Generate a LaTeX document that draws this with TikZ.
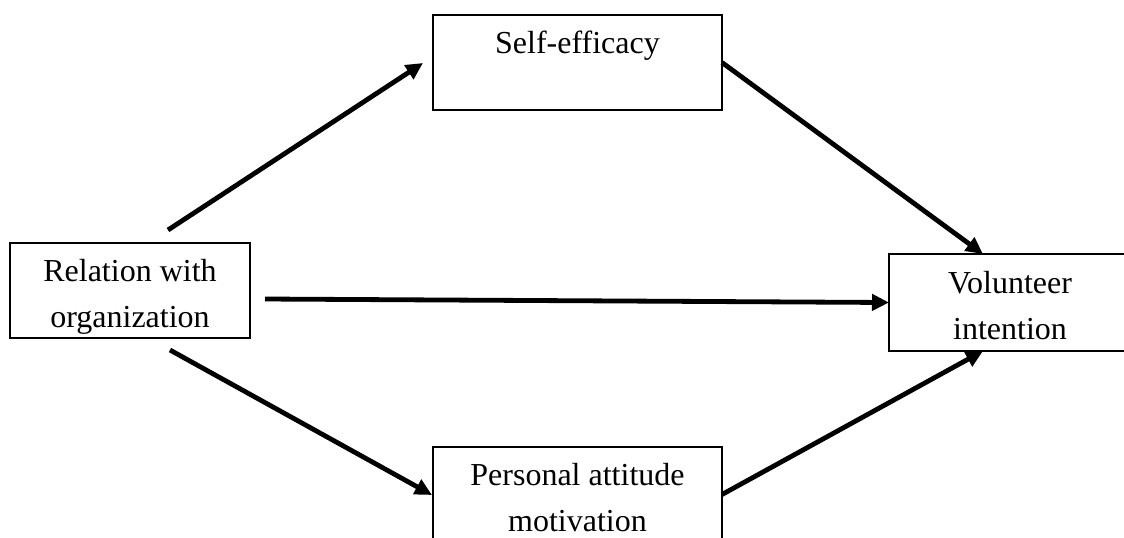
\documentclass[tikz,border=0pt]{standalone}
\usepackage{fontspec}
\setmainfont{Liberation Serif}
\usetikzlibrary{arrows.meta,calc}
\begin{document}
\begin{tikzpicture}[x=0.5pt,y=-0.5pt,
  box/.style={draw=black,line width=0.7pt,rectangle,inner sep=0pt,outer sep=0pt},
  txt/.style={inner sep=0pt,outer sep=0pt,align=center,anchor=north,font=\fontsize{16}{23}\selectfont},
  arr/.style={line width=2.4pt,-{Triangle[length=8.5pt,width=8pt]}}]
\useasboundingbox (0,0) rectangle (1124,537);
\fill[white] (0,0) rectangle (1124,537);
% boxes
\node[box,minimum width=120pt,minimum height=47.5pt] (rel) at (130,290.5) {};
\node[box,minimum width=144.5pt,minimum height=47.5pt] (self) at (577.5,62.5) {};
\node[box,minimum width=144.5pt,minimum height=47.5pt] (pers) at (577.5,494.5) {};
\node[box,minimum width=121pt,minimum height=48.5pt] (vol) at (1010,302.5) {};
% texts
\node[txt] (relt) at ($(rel.north)+(0,6.5)$) {\strut Relation with\\organization};
\node[txt] (selft) at ($(self.north)+(0,6.5)$) {\strut Self-efficacy};
\node[txt] (perst) at ($(pers.north)+(0,6.5)$) {\strut Personal attitude\\motivation};
\node[txt] (volt) at ($(vol.north)+(0,7)$) {\strut Volunteer\\intention};
% arrows
\draw[arr] ($(rel.north)+(38,-13)$) -- ($(self.west)+(-10,0.5)$);
\draw[arr] (self.east) -- ($(vol.north)+(-27,0)$);
\draw[arr] ($(rel.east)+(15,8.5)$) -- (vol.west);
\draw[arr] ($(rel.south)+(40,12)$) -- ($(pers.west)+(-1,0.5)$);
\draw[arr] (pers.east) -- ($(vol.south)+(-27,0)$);
\end{tikzpicture}
\end{document}
